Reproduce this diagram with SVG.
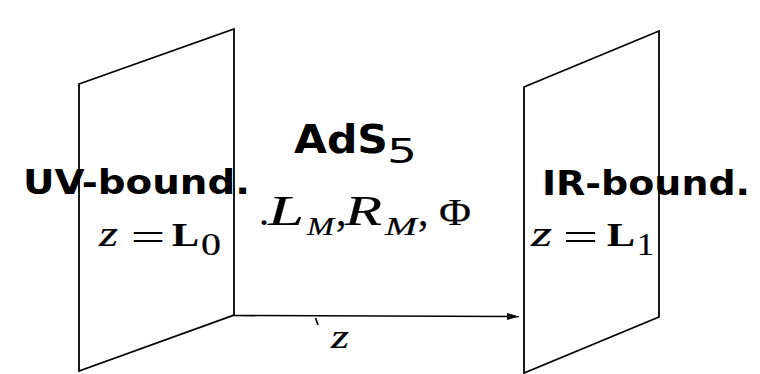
<svg xmlns="http://www.w3.org/2000/svg" width="760" height="374" viewBox="0 0 760 374">
<style>
.panel{fill:none;stroke:#000;stroke-width:1.8;stroke-linejoin:miter}
.conn{fill:none;stroke:#000;stroke-width:1.6}
.lbl{font-family:"DejaVu Sans","Liberation Sans",sans-serif;font-weight:bold;fill:#000}
.sub{font-family:"DejaVu Sans","Liberation Sans",sans-serif;font-weight:normal;fill:#000}
.math{font-family:"Liberation Serif","DejaVu Serif",serif;fill:#000;stroke:#000;stroke-width:0.2}
.it{font-style:italic}
.bf{font-weight:bold}
</style>
<defs>
<marker id="ah" viewBox="0 0 12 7" refX="12" refY="3.5" markerWidth="12" markerHeight="7" markerUnits="userSpaceOnUse" orient="auto">
<path d="M0,0 L12,3.5 L0,7 Z" fill="#000"/>
</marker>
</defs>
<rect width="760" height="374" fill="#fff"/>
<g id="connectors">
<line class="conn" x1="234" y1="315.5" x2="519" y2="316.5" marker-end="url(#ah)"/>
<line class="conn" x1="315.5" y1="318" x2="318" y2="325" stroke-width="1"/>
</g>
<g id="uv-boundary">
<polygon class="panel" points="79,84 234,29 234,315 79,371"/>
<text class="lbl" x="23" y="194" font-size="34" textLength="227" lengthAdjust="spacingAndGlyphs">UV-bound.</text>
<text class="math it" x="99" y="246" font-size="35" textLength="19" lengthAdjust="spacingAndGlyphs">z</text>
<text class="math" x="131" y="250" font-size="38" textLength="34" lengthAdjust="spacingAndGlyphs">=</text>
<text class="math bf" x="172" y="246" font-size="33" textLength="27" lengthAdjust="spacingAndGlyphs">L</text>
<text class="math" x="201" y="255" font-size="32" textLength="20" lengthAdjust="spacingAndGlyphs">0</text>
</g>
<g id="ads5">
<text class="lbl" x="294" y="153" font-size="39" textLength="94" lengthAdjust="spacingAndGlyphs">AdS</text>
<text class="sub" x="387" y="163" font-size="34" textLength="30" lengthAdjust="spacingAndGlyphs">5</text>
<text class="math" x="259" y="225" font-size="40">.</text>
<text class="math it" x="268" y="225" font-size="42" textLength="36" lengthAdjust="spacingAndGlyphs">L</text>
<text class="math it" x="307" y="235" font-size="25" textLength="27" lengthAdjust="spacingAndGlyphs">M</text>
<text class="math" x="336" y="225" font-size="42">,</text>
<text class="math it" x="345" y="225" font-size="42" textLength="37" lengthAdjust="spacingAndGlyphs">R</text>
<text class="math it" x="385" y="235" font-size="25" textLength="32" lengthAdjust="spacingAndGlyphs">M</text>
<text class="math" x="418" y="225" font-size="42">,</text>
<text class="math" x="439" y="225" font-size="38" textLength="32" lengthAdjust="spacingAndGlyphs">Φ</text>
</g>
<g id="ir-boundary">
<polygon class="panel" points="524,87 659,31 659,317 524,373"/>
<text class="lbl" x="542" y="195" font-size="34" textLength="208" lengthAdjust="spacingAndGlyphs">IR-bound.</text>
<text class="math it" x="531" y="246" font-size="35" textLength="21" lengthAdjust="spacingAndGlyphs">z</text>
<text class="math" x="563" y="250" font-size="38" textLength="35" lengthAdjust="spacingAndGlyphs">=</text>
<text class="math bf" x="607" y="246" font-size="33" textLength="28" lengthAdjust="spacingAndGlyphs">L</text>
<text class="math" x="637" y="255" font-size="32" textLength="17" lengthAdjust="spacingAndGlyphs">1</text>
</g>
<g id="z-axis-label">
<text class="math it" x="331" y="348" font-size="34" textLength="18" lengthAdjust="spacingAndGlyphs">z</text>
</g>
</svg>
